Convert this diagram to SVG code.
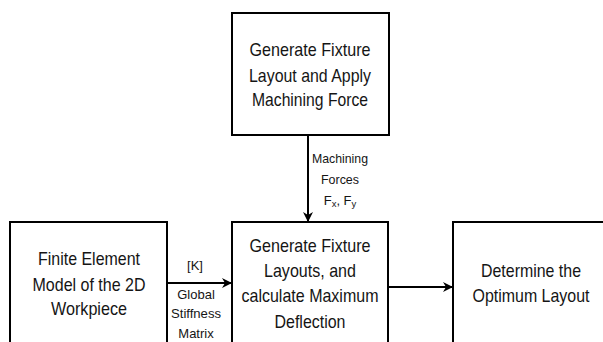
<svg xmlns="http://www.w3.org/2000/svg" width="603" height="342" viewBox="0 0 603 342">
<style>
.box{fill:#fff;stroke:#000;stroke-width:2}
.t{font-family:"Liberation Sans",Arial,sans-serif;font-size:18.5px;fill:#151515;text-anchor:middle}
.s{font-family:"Liberation Sans",Arial,sans-serif;font-size:13px;fill:#151515;text-anchor:middle}
.c{stroke:#000;stroke-width:2;fill:none;marker-end:url(#ah)}
</style>
<defs>
<marker id="ah" viewBox="0 0 10 10" refX="9" refY="5" markerWidth="5" markerHeight="5" orient="auto" markerUnits="strokeWidth">
<path d="M0,0 L10,5 L0,10 L3,5 Z" fill="#000"/>
</marker>
</defs>
<rect width="603" height="342" fill="#fff"/>
<g id="connectors">
<line class="c" x1="308" y1="136" x2="308" y2="221"/>
<line class="c" x1="167" y1="283" x2="231" y2="283"/>
<line class="c" x1="388" y1="287" x2="452" y2="287"/>
</g>
<g id="top">
<rect class="box" x="232" y="13" width="157" height="122"/>
<text class="t" x="310" y="56" textLength="121" lengthAdjust="spacingAndGlyphs">Generate Fixture</text>
<text class="t" x="310" y="82" textLength="122" lengthAdjust="spacingAndGlyphs">Layout and Apply</text>
<text class="t" x="310" y="106" textLength="116" lengthAdjust="spacingAndGlyphs">Machining Force</text>
</g>
<g id="fem">
<rect class="box" x="10" y="222" width="157" height="140"/>
<text class="t" x="89" y="265" textLength="102" lengthAdjust="spacingAndGlyphs">Finite Element</text>
<text class="t" x="89" y="291" textLength="113" lengthAdjust="spacingAndGlyphs">Model of the 2D</text>
<text class="t" x="89" y="315" textLength="76" lengthAdjust="spacingAndGlyphs">Workpiece</text>
</g>
<g id="middle">
<rect class="box" x="232" y="222" width="156" height="140"/>
<text class="t" x="310" y="252" textLength="121" lengthAdjust="spacingAndGlyphs">Generate Fixture</text>
<text class="t" x="310" y="277" textLength="92" lengthAdjust="spacingAndGlyphs">Layouts, and</text>
<text class="t" x="310" y="302" textLength="137" lengthAdjust="spacingAndGlyphs">calculate Maximum</text>
<text class="t" x="310" y="328" textLength="71" lengthAdjust="spacingAndGlyphs">Deflection</text>
</g>
<g id="optimum">
<rect class="box" x="453" y="222" width="152" height="140"/>
<text class="t" x="531" y="277" textLength="100" lengthAdjust="spacingAndGlyphs">Determine the</text>
<text class="t" x="531" y="302" textLength="117" lengthAdjust="spacingAndGlyphs">Optimum Layout</text>
</g>
<g id="labels">
<text class="s" x="340" y="163" textLength="56" lengthAdjust="spacingAndGlyphs">Machining</text>
<text class="s" x="340" y="184" textLength="38" lengthAdjust="spacingAndGlyphs">Forces</text>
<text class="s" x="340" y="205">F<tspan font-size="9.5" dy="2">x</tspan><tspan dy="-2">, F</tspan><tspan font-size="9.5" dy="2">y</tspan></text>
<text class="s" x="195" y="270">[K]</text>
<text class="s" x="196" y="299">Global</text>
<text class="s" x="196" y="318" textLength="50" lengthAdjust="spacingAndGlyphs">Stiffness</text>
<text class="s" x="196" y="338">Matrix</text>
</g>
</svg>
